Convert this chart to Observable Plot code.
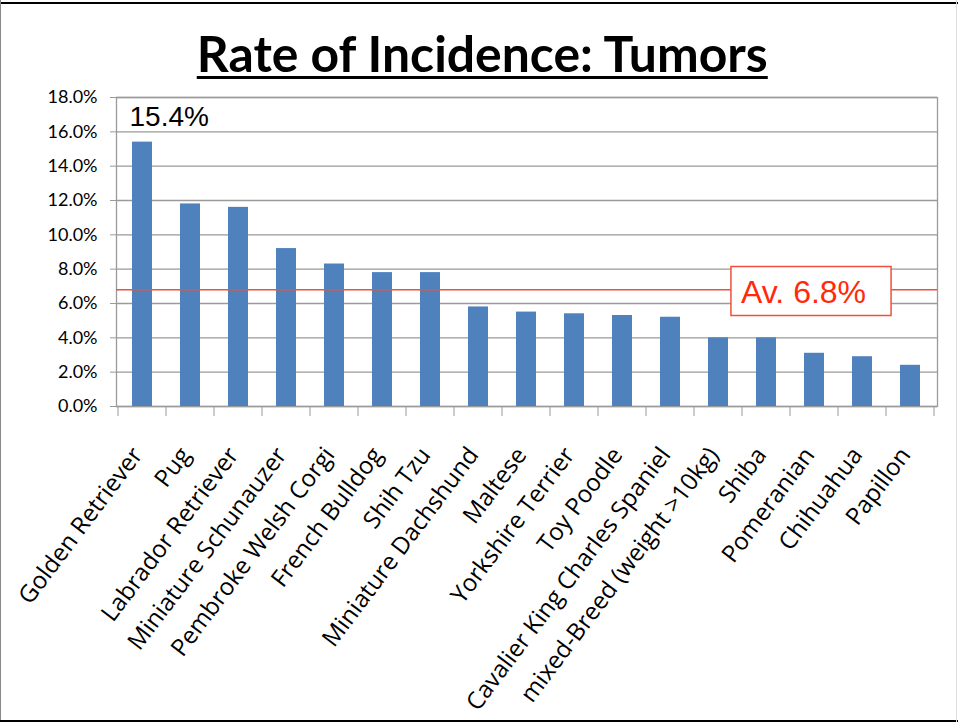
<!DOCTYPE html>
<html>
<head>
<meta charset="utf-8">
<script src="https://cdn.jsdelivr.net/npm/d3@7"></script>
<script src="https://cdn.jsdelivr.net/npm/@observablehq/plot@0.6"></script>
<style>
  html, body { margin: 0; padding: 0; background: #fff; }
  #page { position: relative; width: 958px; height: 722px; overflow: hidden; background: #fff; }
  #title { position: absolute; left: 0; top: 28px; width: 958px; height: 52px; text-align: center; white-space: nowrap; }
  #title span { display: inline-block; font-family: Lato, "Open Sans", sans-serif; font-weight: 700; font-size: 50px; line-height: 1; color: #000;
    text-decoration: underline; text-decoration-thickness: 3px; text-underline-offset: 4px; transform-origin: center; }
  #chart { position: absolute; left: 0; top: 80px; }
  .edge { position: absolute; }
  #chart g[aria-label="x-axis tick label"] text { font-family: "Open Sans", Lato, sans-serif; }
</style>
</head>
<body>
<div id="page">
  <div id="title"><span id="titleText">Rate of Incidence: Tumors</span></div>
  <div id="chart"></div>
  <div class="edge" style="left:0;top:2px;width:958px;height:2px;background:#000"></div>
  <div class="edge" style="left:0;top:0;width:1px;height:722px;background:#888"></div>
  <div class="edge" style="left:0;top:720px;width:958px;height:2px;background:#000"></div>
  <div class="edge" style="left:956px;top:0;width:1px;height:722px;background:#ddd"></div>
</div>
<script>
const breeds = [
  "Golden Retriever", "Pug", "Labrador Retriever", "Miniature Schunauzer",
  "Pembroke Welsh Corgi", "French Bulldog", "Shih Tzu", "Miniature Dachshund",
  "Maltese", "Yorkshire Terrier", "Toy Poodle", "Cavalier King Charles Spaniel",
  "mixed-Breed (weight >10kg)", "Shiba", "Pomeranian", "Chihuahua", "Papillon"
];
const rates = [15.4, 11.8, 11.6, 9.2, 8.3, 7.8, 7.8, 5.8, 5.5, 5.4, 5.3, 5.2, 4.0, 4.0, 3.1, 2.9, 2.4];
const yTicks = [0, 2, 4, 6, 8, 10, 12, 14, 16, 18];
const averageRate = 6.8;
const averageBreedAnchor = "Pomeranian";

const data = breeds.map((b, i) => ({breed: b, rate: rates[i]}));

// Ticks at the category boundaries (Excel style), placed with the x scale
function boundaryTicks(index, scales, values, dimensions) {
  const x = scales.x;
  const bw = x.bandwidth ? x.bandwidth() : 0;
  const step = x(breeds[1]) - x(breeds[0]);
  const gap = (step - bw) / 2;
  const y0 = dimensions.height - dimensions.marginBottom;
  const g = d3.create("svg:g");
  const edges = breeds.map(b => x(b) - gap).concat([x(breeds[breeds.length - 1]) + bw + gap]);
  g.selectAll("line").data(edges).join("line")
    .attr("x1", d => d).attr("x2", d => d)
    .attr("y1", y0).attr("y2", y0 + 10)
    .attr("stroke", "#999").attr("stroke-width", 1);
  return g.node();
}

const chart = Plot.plot({
  width: 958,
  height: 642,
  marginTop: 17,
  marginLeft: 116,
  marginRight: 21,
  marginBottom: 316,
  style: {fontFamily: "Lato, 'Open Sans', sans-serif", background: "transparent", color: "#000"},
  x: {domain: breeds, paddingInner: 0.58, paddingOuter: 0.29, label: null},
  y: {domain: [0, 18], label: null},
  marks: [
    Plot.gridY(yTicks, {stroke: "#9a9a9a", strokeOpacity: 1, strokeWidth: 1.3}),
    Plot.frame({stroke: "#9a9a9a", strokeWidth: 1.3}),
    Plot.barY(data, {x: "breed", y: "rate", fill: "#4f81bd"}),
    Plot.ruleY([averageRate], {stroke: "#f0503a", strokeWidth: 1.5}),
    Plot.axisY({ticks: yTicks, tickFormat: d => d.toFixed(1) + "%", tickSize: 6, tickPadding: 13, fontSize: 18, stroke: "#9a9a9a"}),
    Plot.axisX({tickSize: 0, tickRotate: -53, tickPadding: 44, dx: -5, fontSize: 24}),
    boundaryTicks,
    Plot.text(data.slice(0, 1), {
      x: "breed", y: "rate", text: d => d.rate.toFixed(1) + "%",
      textAnchor: "start", dx: -13, dy: -25, fontSize: 28,
      fontFamily: "'Liberation Sans', Arial, sans-serif", fill: "#000"
    }),
    Plot.text([averageRate], {
      x: () => averageBreedAnchor, y: d => d, text: d => "Av. " + d.toFixed(1) + "%",
      dx: -11, dy: 3, fontSize: 32,
      fontFamily: "'Liberation Sans', Arial, sans-serif", fill: "#ff2a0a"
    })
  ]
});
document.getElementById("chart").appendChild(chart);

// white box with red border behind the average label
const avgText = Array.from(chart.querySelectorAll("text")).find(t => t.textContent.startsWith("Av."));
if (avgText) {
  const bb = avgText.getBBox();
  const rect = document.createElementNS("http://www.w3.org/2000/svg", "rect");
  rect.setAttribute("x", bb.x - 10);
  rect.setAttribute("y", bb.y - 7.5);
  rect.setAttribute("width", bb.width + 35);
  rect.setAttribute("height", bb.height + 13);
  rect.setAttribute("fill", "#fff");
  rect.setAttribute("stroke", "#f0503a");
  rect.setAttribute("stroke-width", 1.5);
  const tr = avgText.getAttribute("transform");
  if (tr) rect.setAttribute("transform", tr);
  avgText.parentNode.insertBefore(rect, avgText);
}

// fit title width to the reference
const t = document.getElementById("titleText");
const w = t.getBoundingClientRect().width;
t.style.transform = "translateX(3px) scaleX(" + (571 / w) + ")";
</script>
</body>
</html>
